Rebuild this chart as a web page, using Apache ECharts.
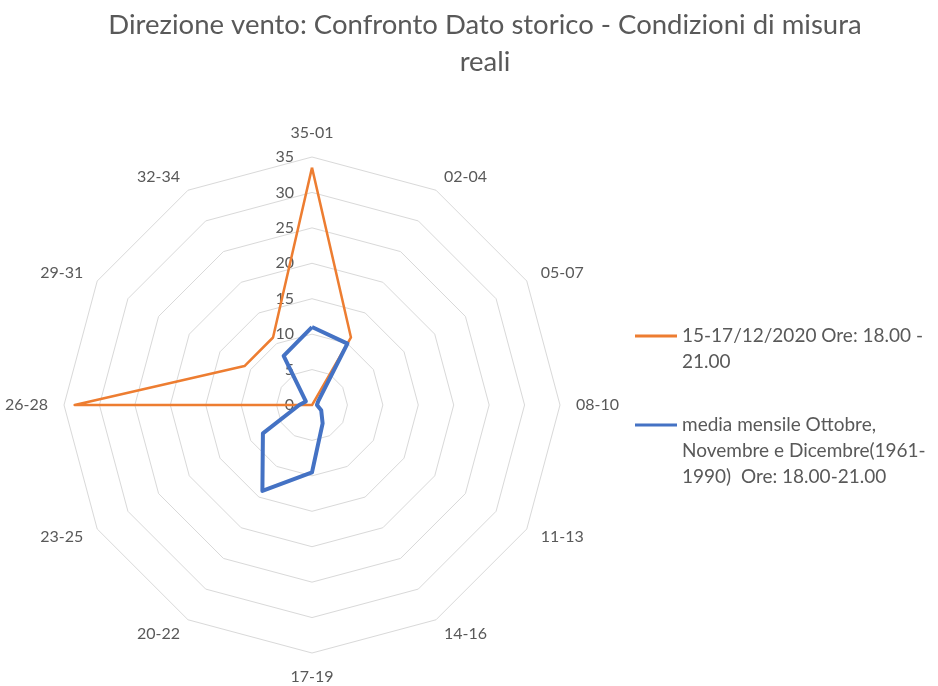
<!DOCTYPE html>
<html>
<head>
<meta charset="utf-8">
<script src="https://cdn.jsdelivr.net/npm/echarts@6/dist/echarts.min.js"></script>
<style>
  html, body { margin: 0; padding: 0; background: #fff; }
  #chart { width: 938px; height: 686px; }
</style>
</head>
<body>
<div id="chart"></div>
<script>
// settori di direzione, in senso orario partendo da nord
const directions = ['35-01', '02-04', '05-07', '08-10', '11-13', '14-16', '17-19', '20-22', '23-25', '26-28', '29-31', '32-34']
const seriesNames = [
  '15-17/12/2020 Ore: 18.00 - 21.00',
  'media mensile Ottobre, Novembre e Dicembre(1961-1990)  Ore: 18.00-21.00',
]
const legendLines = [
  ['15-17/12/2020 Ore: 18.00 -', '21.00'],
  ['media mensile Ottobre,', 'Novembre e Dicembre(1961-', '1990)  Ore: 18.00-21.00'],
]
const misuraReale = [33.5, 11, 0, 0, 0, 0, 0, 0, 0, 33.5, 11, 11]
const datoStorico = [11, 10, 1, 0.7, 1.5, 3, 9.5, 14, 8, 1.8, 1, 8]
const maxValue = 35

const textGray = '#595959'
const font = 'Lato'

// echarts places radar axes counter-clockwise, the chart goes clockwise
const order = directions.map((_, i) => (directions.length - i) % directions.length)
const reorder = (arr) => order.map((k) => arr[k])

// empty lines in front so the first line sits level with the legend icon
function legendText(name) {
  const lines = legendLines[seriesNames.indexOf(name)]
  return new Array(lines.length - 1).fill('').concat(lines).join('\n')
}

const chart = echarts.init(document.getElementById('chart'))

chart.setOption({
  backgroundColor: '#fff',
  animation: false,
  title: {
    text: 'Direzione vento: Confronto Dato storico - Condizioni di misura\nreali',
    left: 480,
    top: 2,
    textAlign: 'center',
    textStyle: { color: textGray, fontFamily: font, fontSize: 27.5, fontWeight: 'normal', lineHeight: 37 },
  },
  legend: {
    orient: 'vertical',
    left: 630,
    top: 292,
    itemWidth: 42,
    itemHeight: 3,
    itemGap: -15,
    icon: 'rect',
    formatter: legendText,
    textStyle: { color: textGray, fontFamily: font, fontSize: 19, lineHeight: 26 },
    data: seriesNames,
  },
  radar: {
    center: [312, 405],
    radius: 248,
    startAngle: 90,
    splitNumber: 7,
    shape: 'polygon',
    nameGap: 16,
    axisName: { color: textGray, fontFamily: font, fontSize: 16 },
    axisLine: { show: false },
    axisTick: { show: false },
    splitArea: { show: false },
    splitLine: { lineStyle: { color: '#d9d9d9', width: 1 } },
    axisLabel: { show: false },
    indicator: reorder(directions).map((d, i) => ({
      name: d,
      min: 0,
      max: maxValue,
      axisLabel: i === 0
        ? { show: true, color: textGray, fontFamily: font, fontSize: 16, margin: 18 }
        : { show: false },
    })),
  },
  series: [
    {
      type: 'radar',
      symbol: 'none',
      data: [
        {
          name: seriesNames[0],
          value: reorder(misuraReale),
          lineStyle: { color: '#ED7D31', width: 2.5 },
          itemStyle: { color: '#ED7D31' },
        },
        {
          name: seriesNames[1],
          value: reorder(datoStorico),
          lineStyle: { color: '#4472C4', width: 4 },
          itemStyle: { color: '#4472C4' },
        },
      ],
    },
  ],
})
</script>
</body>
</html>
